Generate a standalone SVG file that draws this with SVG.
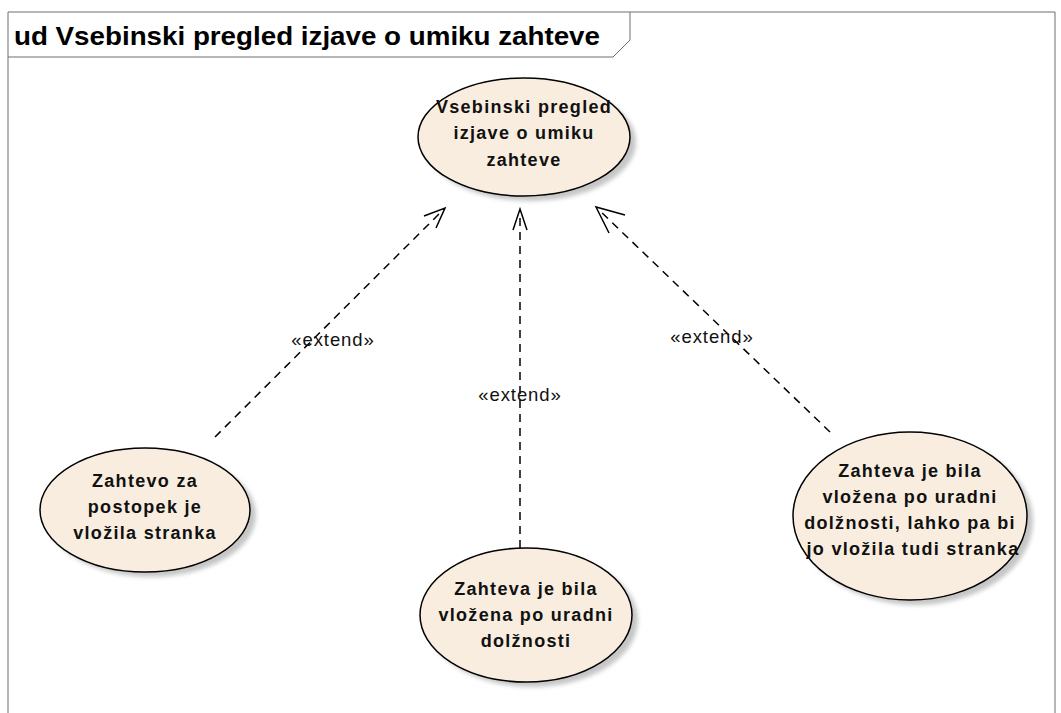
<svg xmlns="http://www.w3.org/2000/svg" width="1061" height="713" viewBox="0 0 1061 713">
<style>
.frame{fill:none;stroke:#6e6e6e;stroke-width:1}
.title{font-family:"Liberation Sans",Arial,sans-serif;font-weight:bold;font-size:25px;fill:#000}
.uc{fill:#F8EDDF;stroke:#000;stroke-width:1.5}
.sh{fill:#b8b8b8;opacity:0.8}
.lbl{font-family:"Liberation Sans",Arial,sans-serif;font-weight:bold;font-size:18px;fill:#111;text-anchor:middle;letter-spacing:1.3px}
.ext{font-family:"Liberation Sans",Arial,sans-serif;font-size:18.5px;fill:#111;text-anchor:middle;letter-spacing:0.9px}
.dep{fill:none;stroke:#000;stroke-width:1.5;stroke-dasharray:8,6}
.ah{fill:none;stroke:#000;stroke-width:1.5}
</style>
<defs>
<filter id="blur" x="-20%" y="-20%" width="140%" height="140%"><feGaussianBlur stdDeviation="2"/></filter>
</defs>
<rect x="0" y="0" width="1061" height="713" fill="#fff"/>
<g id="frame">
<path class="frame" d="M8,713 L8,12 L1055,12 L1055,713"/>
<path class="frame" d="M8,57 L613,57 L630,40 L630,12"/>
<text class="title" x="14" y="45" textLength="586" lengthAdjust="spacingAndGlyphs">ud Vsebinski pregled izjave o umiku zahteve</text>
</g>
<g id="connectors">
<line class="dep" x1="215" y1="437" x2="444" y2="209"/>
<path class="ah" d="M424,216 L445,208 L436,228"/>
<text class="ext" x="333" y="346">«extend»</text>
<line class="dep" x1="520" y1="548" x2="520" y2="211"/>
<path class="ah" d="M513,230 L520,209 L527,230"/>
<text class="ext" x="520" y="401">«extend»</text>
<line class="dep" x1="830" y1="432" x2="598" y2="209"/>
<path class="ah" d="M625,215 L596,207 L609,233"/>
<text class="ext" x="712" y="343">«extend»</text>
</g>
<g id="uc_main">
<ellipse class="sh" cx="530" cy="142" rx="106" ry="59" filter="url(#blur)"/>
<ellipse class="uc" cx="524" cy="137" rx="106" ry="59"/>
<text class="lbl" x="524" y="113">Vsebinski pregled</text>
<text class="lbl" x="524" y="139">izjave o umiku</text>
<text class="lbl" x="524" y="166">zahteve</text>
</g>
<g id="uc_stranka">
<ellipse class="sh" cx="151" cy="515" rx="105" ry="62" filter="url(#blur)"/>
<ellipse class="uc" cx="145" cy="510" rx="105" ry="62"/>
<text class="lbl" x="145" y="487">Zahtevo za</text>
<text class="lbl" x="145" y="513">postopek je</text>
<text class="lbl" x="145" y="539">vložila stranka</text>
</g>
<g id="uc_uradno">
<ellipse class="sh" cx="532" cy="620" rx="106" ry="67" filter="url(#blur)"/>
<ellipse class="uc" cx="526" cy="615" rx="106" ry="67"/>
<text class="lbl" x="526" y="595">Zahteva je bila</text>
<text class="lbl" x="526" y="621">vložena po uradni</text>
<text class="lbl" x="526" y="647">dolžnosti</text>
</g>
<g id="uc_oboje">
<ellipse class="sh" cx="916" cy="521" rx="117" ry="84" filter="url(#blur)"/>
<ellipse class="uc" cx="910" cy="516" rx="117" ry="84"/>
<text class="lbl" x="910" y="477">Zahteva je bila</text>
<text class="lbl" x="910" y="503">vložena po uradni</text>
<text class="lbl" x="910" y="529">dolžnosti, lahko pa bi</text>
<text class="lbl" x="913" y="555">jo vložila tudi stranka</text>
</g>
</svg>
